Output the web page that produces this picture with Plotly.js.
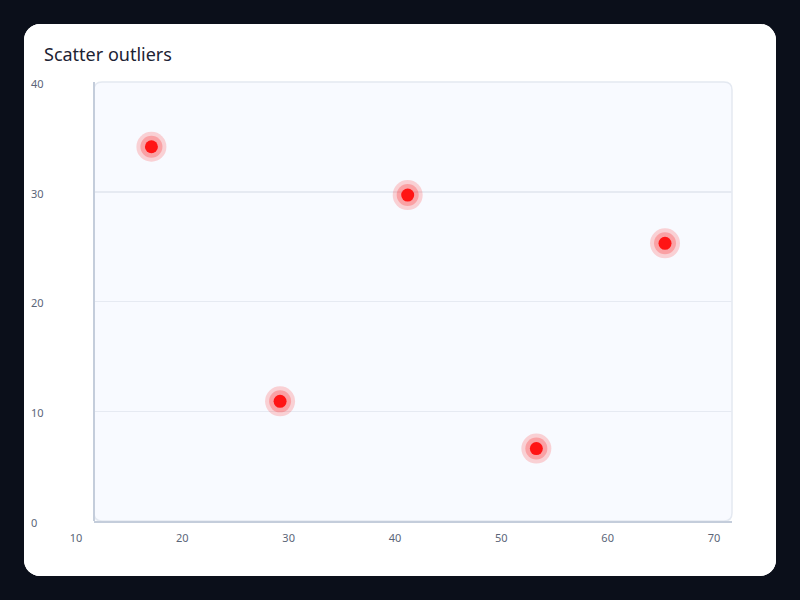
<!DOCTYPE html>
<html>
<head>
<meta charset="utf-8">
<script src="https://cdn.plot.ly/plotly-3.0.1.min.js"></script>
<style>
  html, body { margin: 0; padding: 0; background: #0b0f1a; width: 800px; height: 600px; overflow: hidden; }
  #card { position: absolute; left: 24px; top: 24px; width: 752px; height: 552px;
          background: #ffffff; border-radius: 16px; overflow: hidden; }
  #myPlot { width: 752px; height: 552px; }
</style>
</head>
<body>
<div id="card"><div id="myPlot"></div></div>
<script>
// outlier points
let xValues = [15.4, 27.5, 39.5, 51.6, 63.7]
let yValues = [34.1, 10.9, 29.7, 6.6, 25.3]

let xTicks = [10, 20, 30, 40, 50, 60, 70]
let yTicks = [0, 10, 20, 30, 40]

// halo rings + core dot
let data = [
    {x: xValues, y: yValues, mode: 'markers', hoverinfo: 'skip',
     marker: {size: 30, color: 'rgba(255,40,40,0.2)'}},
    {x: xValues, y: yValues, mode: 'markers', hoverinfo: 'skip',
     marker: {size: 22, color: 'rgba(255,40,40,0.28)'}},
    {x: xValues, y: yValues, mode: 'markers',
     marker: {size: 13, color: '#ff1414'}}
]

// rounded plot background, in domain fractions
let rx = 8 / 638, ry = 8 / 439
let bgPath = 'M ' + rx + ' 0 L ' + (1 - rx) + ' 0 Q 1 0 1 ' + ry +
    ' L 1 ' + (1 - ry) + ' Q 1 1 ' + (1 - rx) + ' 1 L ' + rx + ' 1 Q 0 1 0 ' + (1 - ry) +
    ' L 0 ' + ry + ' Q 0 0 ' + rx + ' 0 Z'

let tickFont = {family: '"Noto Sans", "Open Sans", sans-serif', color: '#5b6578', size: 11}

let layout = {
    width: 752, height: 552,
    paper_bgcolor: '#ffffff',
    plot_bgcolor: 'rgba(0,0,0,0)',
    showlegend: false,
    margin: {l: 4, r: 44, t: 58, b: 55},
    font: tickFont,
    title: {text: 'Scatter outliers', xref: 'container', x: 20 / 752, xanchor: 'left',
            yref: 'container', y: 1 - 31 / 552, yanchor: 'middle',
            font: {size: 18, color: '#1c2333', family: '"Noto Sans", "Open Sans", sans-serif'}},
    xaxis: {
        domain: [66 / 704, 1],
        range: [10, 70],
        tickvals: xTicks,
        color: '#5b6578',
        tickfont: tickFont,
        showgrid: false, zeroline: false,
        showline: true, linecolor: '#c4cddb', linewidth: 2,
        ticks: '', ticklabelshift: -18, ticklabelstandoff: 6,
        fixedrange: true
    },
    yaxis: {
        anchor: 'free', position: 0, side: 'right',
        range: [0, 40],
        tickvals: yTicks,
        color: '#5b6578',
        tickfont: tickFont,
        showgrid: true, gridcolor: '#e6eaf2', gridwidth: 1.5,
        zeroline: false, showline: false, ticks: '',
        ticklabelstandoff: 2, ticklabelshift: 2,
        automargin: false,
        fixedrange: true
    },
    shapes: [
        {type: 'path', xref: 'x domain', yref: 'y domain', path: bgPath,
         fillcolor: '#f8faff', line: {color: '#e4e9f1', width: 1.5}, layer: 'below'},
        {type: 'line', xref: 'x domain', yref: 'y domain', x0: 0, x1: 0, y0: 0, y1: 1,
         line: {color: '#c4cddb', width: 2}, layer: 'above'}
    ]
}

Plotly.newPlot('myPlot', data, layout, {displayModeBar: false, staticPlot: true})
</script>
</body>
</html>
